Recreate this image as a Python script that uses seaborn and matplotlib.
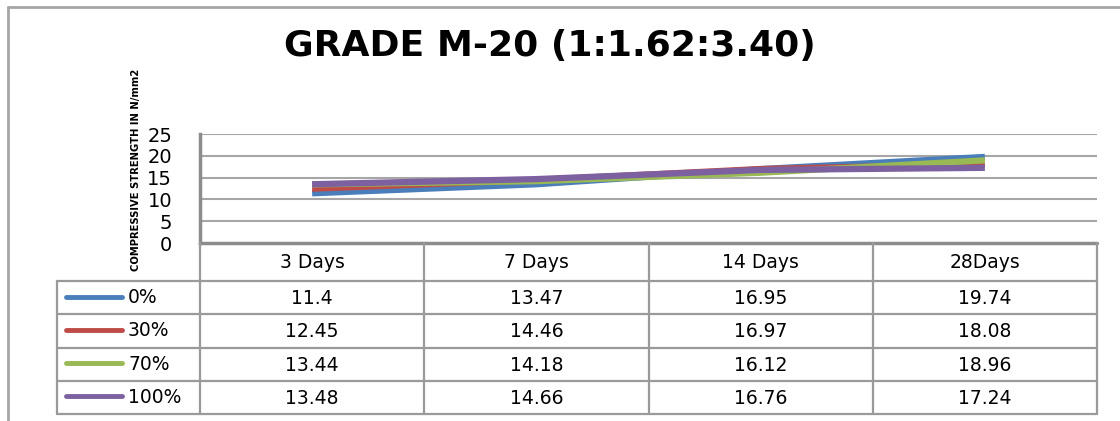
import pandas as pd
import matplotlib.pyplot as plt
import seaborn as sns
from matplotlib.lines import Line2D

# data
ages = ['3 Days', '7 Days', '14 Days', '28Days']
mixes = ['0%', '30%', '70%', '100%']
strength_0 = [11.4, 13.47, 16.95, 19.74]
strength_30 = [12.45, 14.46, 16.97, 18.08]
strength_70 = [13.44, 14.18, 16.12, 18.96]
strength_100 = [13.48, 14.66, 16.76, 17.24]
y_ticks = [0, 5, 10, 15, 20, 25]

colors = ['#4A7EBB', '#BE4B48', '#98B954', '#7D60A0']
series = [strength_0, strength_30, strength_70, strength_100]

df = pd.DataFrame({
    'pos': list(range(len(ages))) * len(mixes),
    'value': strength_0 + strength_30 + strength_70 + strength_100,
    'mix': [m for m in mixes for _ in ages],
})

sns.set_style('white')
plt.rcParams['font.family'] = ['DejaVu Sans']
plt.rcParams['text.color'] = 'black'
plt.rcParams['ytick.color'] = 'black'

W, H = 1120, 421
fig = plt.figure(figsize=(W / 100, H / 100), dpi=100)

def fx(px):
    return px / W

def fy(py):
    return 1 - py / H

grid_c = '#A6A6A6'

# outer frame (top and left edge)
fig.add_artist(Line2D([fx(8), fx(1120)], [fy(7), fy(7)], color=grid_c, lw=2))
fig.add_artist(Line2D([fx(8), fx(8)], [fy(7), fy(421)], color=grid_c, lw=2))

# plot area
x0, x1 = 200, 1097
ytop, ybot = 134, 243
ax = fig.add_axes([fx(x0), fy(ybot), fx(x1) - fx(x0), (ybot - ytop) / H])
sns.lineplot(data=df, x='pos', y='value', hue='mix', palette=colors,
             linewidth=4.5, legend=False, ax=ax, solid_capstyle='butt')
ax.set_xlim(-0.5, len(ages) - 0.5)
ax.set_ylim(0, 25)
ax.set_yticks(y_ticks)
ax.set_yticklabels([str(t) for t in y_ticks], fontsize=14)
ax.set_xticks([])
ax.set_xlabel('')
ax.set_ylabel('')
for t in y_ticks[1:]:
    ax.axhline(t, color=grid_c, lw=1.5, zorder=0)
for s in ['top', 'right', 'bottom']:
    ax.spines[s].set_visible(False)
ax.spines['left'].set_color('#8C8C8C')
ax.spines['left'].set_linewidth(2.5)
ax.tick_params(axis='y', length=0, pad=20)

# table below
tab_top, head_bot, tab_bot = 243, 281, 414
leg_left = 57
cat_w = (x1 - x0) / len(ages)
tx = fig.add_axes([fx(leg_left), fy(tab_bot), fx(x1) - fx(leg_left), (tab_bot - tab_top) / H])
tx.set_xlim(leg_left, x1)
tx.set_ylim(tab_bot, tab_top)
tx.axis('off')
lc = '#9A9A9A'
lw = 1.6
row_h = (tab_bot - head_bot) / len(mixes)

# header
tx.plot([x0, x1], [tab_top, tab_top], color='#8C8C8C', lw=2.5, clip_on=False)
for i in range(len(ages) + 1):
    xx = x0 + i * cat_w
    tx.plot([xx, xx], [tab_top, tab_bot], color=lc, lw=lw, clip_on=False)
tx.plot([leg_left, leg_left], [head_bot, tab_bot], color=lc, lw=lw, clip_on=False)
for i, a in enumerate(ages):
    tx.text(x0 + (i + 0.5) * cat_w, (tab_top + head_bot) / 2 + 1, a,
            ha='center', va='center', fontsize=13.5)
for r in range(len(mixes) + 1):
    yy = head_bot + r * row_h
    tx.plot([leg_left, x1], [yy, yy], color=lc, lw=lw, clip_on=False)

for r, (m, vals, c) in enumerate(zip(mixes, series, colors)):
    yc = head_bot + (r + 0.5) * row_h
    tx.plot([66, 122], [yc - 1, yc - 1], color=c, lw=3.5, solid_capstyle='round')
    tx.text(128, yc, m, ha='left', va='center', fontsize=13.5)
    for i, v in enumerate(vals):
        tx.text(x0 + (i + 0.5) * cat_w, yc + 1, f'{v:g}',
                ha='center', va='center', fontsize=13.5)

fig.text(fx(550), fy(46), 'GRADE M-20 (1:1.62:3.40)', ha='center', va='center',
         fontsize=26, fontweight='bold')
fig.text(fx(136), fy(170), 'COMPRESSIVE STRENGTH IN N/mm2', rotation=90,
         ha='center', va='center', fontsize=7.2, fontweight='bold',
         family=['DejaVu Sans Condensed', 'DejaVu Sans'])

fig.savefig('out.png', dpi=100)
